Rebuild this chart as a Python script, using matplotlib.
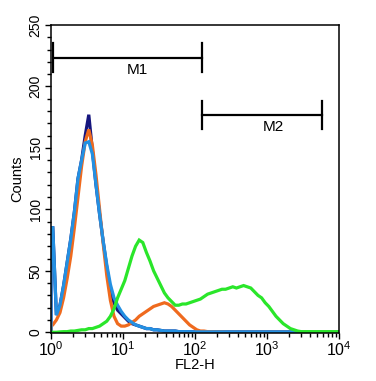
import matplotlib
matplotlib.use("Agg")
import matplotlib.pyplot as plt
import numpy as np
from matplotlib.ticker import MultipleLocator, LogLocator, NullFormatter

plt.rcParams['font.family'] = ['Liberation Sans', 'DejaVu Sans']
plt.rcParams['mathtext.fontset'] = 'custom'
plt.rcParams['mathtext.rm'] = 'Liberation Sans'
plt.rcParams['mathtext.it'] = 'Liberation Sans'

# channel edges: 20 log bins per decade over 10^0 .. 10^4
EDGES = np.logspace(0, 4, 81)
CENTERS = np.sqrt(EDGES[:-1] * EDGES[1:])

# counts per channel bin
navy = [85, 14, 22, 38, 57, 76, 98, 125, 140, 160, 177, 148, 120, 96, 74, 53, 34, 24, 18, 15,
        12, 9, 7, 6, 5, 4, 3, 3, 2, 2, 1.5, 1, 1, 1, 1, 0.5, 0.5, 0.5, 0.5, 0.3,
        0.3, 0.3, 0.3, 0.3, 0.3, 0.3, 0.3, 0.3, 0.3, 0.3, 0.3, 0.3, 0.3, 0.3, 0.3, 0.3, 0.3, 0.3, 0.3, 0.3,
        0.3, 0.3, 0.3, 0.3, 0.3, 0.3, 0.3, 0.3, 0, 0, 0, 0, 0, 0, 0, 0, 0, 0, 0, 0]
orange = [6, 10, 16, 28, 44, 62, 85, 110, 135, 155, 165, 152, 128, 100, 72, 46, 26, 13, 7, 5,
          5, 6, 8, 10, 13, 15, 17, 19, 21, 22, 23, 24, 23, 21, 18, 15, 12, 9, 6, 4,
          2, 1, 1, 0.5, 0.5, 0.3, 0.3, 0.3, 0, 0, 0, 0, 0, 0, 0, 0, 0, 0, 0, 0,
          0, 0, 0, 0, 0, 0, 0, 0, 0, 0, 0, 0, 0, 0, 0, 0, 0, 0, 0, 0]
blue = [85, 14, 22, 38, 57, 76, 98, 125, 140, 154, 155, 145, 120, 96, 74, 55, 39, 28, 22, 17,
        13, 10, 8, 6, 5, 4, 3, 3, 2, 2, 1.5, 1, 1, 1, 1, 0.5, 0.5, 0.5, 0.5, 0.3,
        0.3, 0.3, 0.3, 0.3, 0.3, 0.3, 0.3, 0.3, 0.3, 0.3, 0.3, 0.3, 0.3, 0.3, 0.3, 0.3, 0.3, 0.3, 0.3, 0.3,
        0.3, 0.3, 0.3, 0.3, 0.3, 0.3, 0.3, 0.3, 0, 0, 0, 0, 0, 0, 0, 0, 0, 0, 0, 0]
green = [0, 0, 0.3, 0.5, 0.5, 1, 1, 1.5, 2, 2, 3, 3, 4, 5, 7, 9, 13, 19, 28, 35,
         42, 52, 62, 70, 75, 73, 65, 58, 50, 44, 38, 32, 28, 25, 22, 22, 23, 23, 24, 25,
         26, 27, 29, 31, 32, 33, 34, 35, 35, 36, 37, 36, 37, 38, 37, 36, 33, 30, 28, 24,
         21, 17, 13, 10, 7, 5, 3, 2, 1, 0.5, 0.5, 0.5, 0.5, 0.5, 0.5, 0.5, 0.5, 0.5, 0.5, 0.5]

# marker gates
gate_names = ['M1', 'M2']
gate_start = [1.07, 126]
gate_end = [126, 5750]
gate_level = [223.5, 177]

x_ticks = [1, 10, 100, 1000, 10000]
x_ticklabels = ['$10^0$', '$10^1$', '$10^2$', '$10^3$', '$10^4$']
y_ticks = [0, 50, 100, 150, 200, 250]

COLORS = {'navy': '#15157e', 'orange': '#ef6a1e', 'blue': '#2390e2', 'green': '#2ae62a'}


def trace(vals):
    """Histogram trace: up the left edge, flat over channel 0, then through the centers."""
    xs = np.concatenate([[EDGES[0], EDGES[0]], CENTERS, [EDGES[-1]]])
    ys = np.concatenate([[0, vals[0]], vals, [vals[-1]]])
    return xs, ys


fig = plt.figure(figsize=(3.76, 3.81), dpi=100)
ax = fig.add_axes([0.1356, 0.1247, 0.766, 0.8097])

for vals, key in [(navy, 'navy'), (orange, 'orange'), (blue, 'blue'), (green, 'green')]:
    xs, ys = trace(np.array(vals, dtype=float))
    ax.plot(xs, ys, color=COLORS[key], linewidth=2.3, solid_joinstyle='miter')

# gate markers
label_shift = {'M1': 1.38, 'M2': 1.45}
for name, x0, x1, lvl in zip(gate_names, gate_start, gate_end, gate_level):
    ax.plot([x0, x1], [lvl, lvl], color='black', linewidth=1.6)
    ax.plot([x0, x0], [lvl - 11.5, lvl + 11.5], color='black', linewidth=1.6)
    ax.plot([x1, x1], [lvl - 11.5, lvl + 11.5], color='black', linewidth=1.6)
    xm = np.sqrt(x0 * x1) * label_shift[name]
    ax.text(xm, lvl - 10, name, ha='center', va='center', fontsize=11)

ax.set_xscale('log')
ax.set_xlim(1, 10000)
ax.set_ylim(-1, 250)
ax.set_xticks(x_ticks)
ax.set_xticklabels(x_ticklabels, fontsize=11.5)
ax.xaxis.set_minor_locator(LogLocator(base=10, subs=np.arange(2, 10)))
ax.xaxis.set_minor_formatter(NullFormatter())
ax.set_yticks(y_ticks)
ax.yaxis.set_minor_locator(MultipleLocator(10))
for lab in ax.get_yticklabels():
    lab.set_rotation(90)
    lab.set_va('center')
    lab.set_fontsize(10)

ax.tick_params(which='major', direction='out', length=4, width=1, pad=2)
ax.tick_params(which='minor', direction='out', length=3, width=1)
ax.tick_params(axis='x', which='major', pad=1)
for sp in ax.spines.values():
    sp.set_linewidth(1.1)

ax.set_ylabel('Counts', fontsize=10.5, labelpad=3)
ax.set_xlabel('FL2-H', fontsize=10.5, labelpad=-1)

fig.savefig('out.png', dpi=100)
